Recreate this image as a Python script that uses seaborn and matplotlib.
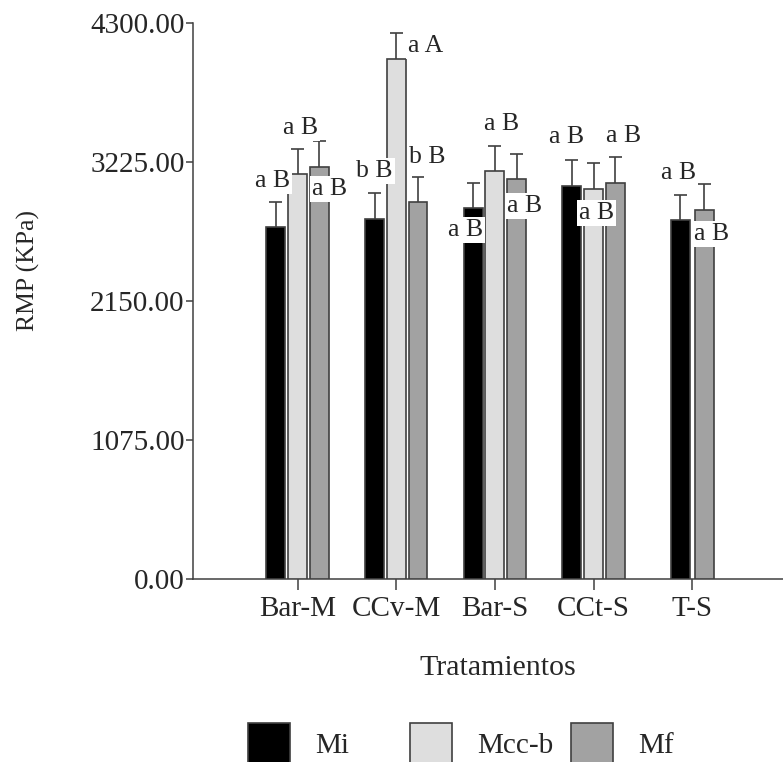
import numpy as np
import pandas as pd
import seaborn as sns
import matplotlib
matplotlib.use("Agg")
import matplotlib.pyplot as plt

# ---------------- data ----------------
categories = ["Bar-M", "CCv-M", "Bar-S", "CCt-S", "T-S"]
series = ["Mi", "Mcc-b", "Mf"]
mi_vals = [2720, 2782, 2867, 3042, 2777]
mcc_vals = [3130, 4019, 3155, 3014, np.nan]
mf_vals = [3189, 2913, 3091, 3060, 2856]
mi_err = [198, 201, 196, 198, 193]
mcc_err = [193, 206, 196, 201, np.nan]
mf_err = [196, 196, 198, 201, 201]
mi_lab = ["a B", "b B", "a B", "a B", "a B"]
mcc_lab = ["a B", "a A", "a B", "a B", ""]
mf_lab = ["a B", "b B", "a B", "a B", "a B"]
yticks = [0, 1075, 2150, 3225, 4300]

# label anchor positions (data coords), layout only
lab_x = {"Mi": [-0.258, 0.777, 1.70, 2.725, 3.860],
         "Mcc-b": [0.026, 1.294, 2.065, 3.03, None],
         "Mf": [0.32, 1.314, 2.298, 3.302, 4.195]}
lab_y = {"Mi": [3078, 3155, 2699, 3418, 3140],
         "Mcc-b": [3488, 4122, 3519, 2831, None],
         "Mf": [3016, 3264, 2885, 3426, 2668]}

vals = {"Mi": mi_vals, "Mcc-b": mcc_vals, "Mf": mf_vals}
errs = {"Mi": mi_err, "Mcc-b": mcc_err, "Mf": mf_err}
labs = {"Mi": mi_lab, "Mcc-b": mcc_lab, "Mf": mf_lab}

rows = []
for s in series:
    for c, v in zip(categories, vals[s]):
        rows.append({"trat": c, "serie": s, "val": v})
df = pd.DataFrame(rows).dropna()

# ---------------- style ----------------
sns.set_style("ticks")
plt.rcParams["font.family"] = ["Liberation Serif", "DejaVu Serif"]
FS = 21
LAB_FS = 18.5
EDGE = "#404040"
colors = ["#000000", "#dedede", "#a2a2a2"]

fig = plt.figure(figsize=(7.83, 7.62), dpi=100)
ax = fig.add_axes([193 / 783, 183 / 762, 590 / 783, 556 / 762])

sns.barplot(data=df, x="trat", y="val", hue="serie", order=categories,
            hue_order=series, palette=colors, width=0.66, gap=0.13,
            edgecolor=EDGE, linewidth=1.2, errorbar=None, legend=False,
            ax=ax, zorder=3)

ax.set_xlim(-1.06, 4.92)
ax.set_ylim(0, 4300)
ax.set_yticks(yticks)
ax.set_yticklabels([f"{t:.2f}" for t in yticks])
ax.set_xlabel("")
ax.set_ylabel("")
sns.despine(ax=ax)
for sp in ["left", "bottom"]:
    ax.spines[sp].set_color(EDGE)
    ax.spines[sp].set_linewidth(1.1)
ax.tick_params(axis="x", length=8, width=1.1, color=EDGE, pad=4, labelsize=FS)
ax.tick_params(axis="y", length=5, width=1.1, color=EDGE, pad=1, labelsize=FS)

# shift the two bars of the last group (missing Mcc-b) to be centred
handles = []
for s, cont in zip(series, ax.containers):
    handles.append(cont.patches[0])
    for p in cont.patches:
        cx = p.get_x() + p.get_width() / 2
        idx = int(round(cx))
        if categories[idx] == "T-S":
            d = (p.get_width() + 0.05) / 2
            new_c = idx - d if s == "Mi" else idx + d
            p.set_x(new_c - p.get_width() / 2)

# error bars (upward only) and letter labels
for s, cont in zip(series, ax.containers):
    for p in cont.patches:
        cx = p.get_x() + p.get_width() / 2
        idx = int(round(cx))
        top = p.get_height()
        e = errs[s][idx]
        ax.vlines(cx, top, top + e, color=EDGE, lw=1.2, zorder=2)
        ax.hlines(top + e, cx - 0.065, cx + 0.065, color=EDGE, lw=1.2, zorder=2)
for s in series:
    for i, t in enumerate(labs[s]):
        if t and lab_x[s][i] is not None:
            ax.text(lab_x[s][i], lab_y[s][i], t, ha="center", va="center",
                    fontsize=LAB_FS, zorder=5,
                    bbox=dict(facecolor="white", edgecolor="none", pad=1.5))

fig.text(28 / 783, 1 - 271 / 762, "RMP (KPa)", rotation=90, ha="center",
         va="center", fontsize=18.5)
fig.text(498 / 783, 1 - 668 / 762, "Tratamientos", ha="center",
         va="center", fontsize=21.5)

fs_px = FS * 100 / 72
hh = (42 / fs_px - 0.245) / 0.65
for h, lab, xl in zip(handles, series, [248, 410, 571]):
    fig.legend([h], [lab], loc="center left",
               bbox_to_anchor=(xl / 783, 1 - 744 / 762), frameon=False,
               fontsize=FS, handlelength=42 / fs_px, handleheight=hh,
               handletextpad=25 / fs_px, borderpad=0, borderaxespad=0)

fig.savefig("out.png", dpi=100)
